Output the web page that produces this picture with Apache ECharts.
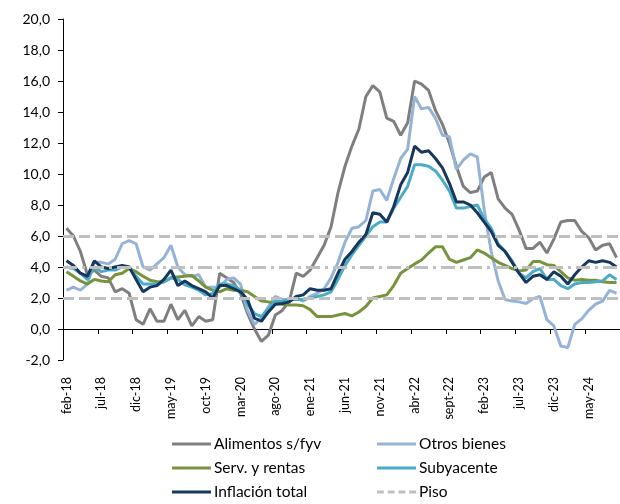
<!DOCTYPE html>
<html>
<head>
<meta charset="utf-8">
<script src="https://cdn.jsdelivr.net/npm/echarts@6/dist/echarts.min.js"></script>
<style>
html,body{margin:0;padding:0;background:#fff;}
#chart{width:620px;height:504px;}
</style>
</head>
<body>
<div id="chart"></div>
<script>
// Categories: monthly, feb-18 .. sept-24
var monthNames = ['ene','feb','mar','abr','may','jun','jul','ago','sept','oct','nov','dic'];
var firstYear = 18, firstMonth = 1, nMonths = 80;
var categories = [];
for (var k = 0; k < nMonths; k++) {
  var m = (firstMonth + k) % 12;
  var y = firstYear + Math.floor((firstMonth + k) / 12);
  categories.push(monthNames[m] + '-' + y);
}

var alimentos = [6.5,6.0,5.0,3.5,3.8,3.4,3.3,2.4,2.6,2.3,
  0.6,0.3,1.3,0.5,0.5,1.6,0.6,1.2,0.2,0.8,
  0.5,0.6,3.6,3.3,3.0,2.3,1.0,0.0,-0.8,-0.4,
  0.9,1.2,1.8,3.6,3.4,3.8,4.6,5.4,6.6,8.8,
  10.5,11.8,12.9,15.0,15.7,15.3,13.6,13.4,12.5,13.3,
  16.0,15.8,15.4,14.1,13.2,12.0,10.5,9.2,8.8,8.9,
  9.8,10.1,8.4,7.8,7.4,6.4,5.2,5.2,5.6,4.9,
  5.8,6.9,7.0,7.0,6.3,5.9,5.1,5.4,5.5,4.6];

var otrosBienes = [2.5,2.7,2.5,2.9,4.3,4.3,4.2,4.5,5.5,5.7,
  5.5,4.0,3.8,4.2,4.6,5.4,4.0,3.5,3.4,3.5,
  2.7,2.7,2.7,3.2,3.3,2.9,1.2,0.3,0.7,1.45,
  2.1,1.9,1.9,2.0,1.8,2.1,2.3,2.6,3.3,4.3,
  5.6,6.5,6.6,7.0,8.9,9.0,8.3,9.7,11.0,11.6,
  15.0,14.2,14.3,13.6,12.5,12.4,10.3,10.9,11.3,11.1,
  7.7,5.0,3.1,1.9,1.8,1.75,1.65,1.95,2.1,0.6,
  0.2,-1.1,-1.2,0.3,0.65,1.2,1.6,1.8,2.5,2.3];

var servRentas = [3.7,3.4,3.1,2.9,3.2,3.1,3.05,3.5,3.6,3.9,
  3.7,3.4,3.15,3.05,3.05,3.3,3.35,3.4,3.45,3.1,
  2.7,2.5,2.4,2.6,2.5,2.5,2.4,2.1,1.8,1.75,
  1.65,1.6,1.55,1.55,1.5,1.25,0.8,0.8,0.8,0.9,
  1.0,0.85,1.1,1.45,2.0,2.1,2.2,2.8,3.6,3.9,
  4.2,4.45,4.9,5.3,5.3,4.5,4.3,4.45,4.6,5.1,
  4.9,4.6,4.3,4.1,3.9,3.75,3.8,4.35,4.35,4.15,
  4.1,3.7,3.3,3.15,3.2,3.15,3.15,3.05,3.0,3.0];

var subyacente = [4.0,3.9,3.6,3.2,4.0,3.7,3.8,3.8,4.0,4.0,
  3.4,2.9,2.9,2.9,3.05,3.3,3.2,2.85,2.7,2.5,
  2.2,2.3,2.9,2.9,2.8,2.5,1.6,1.0,0.8,1.3,
  1.8,1.8,1.9,1.9,1.9,2.0,2.1,2.2,2.4,3.2,
  4.1,4.8,5.4,6.0,6.6,6.9,6.9,7.8,8.5,9.2,
  10.6,10.6,10.5,10.2,9.6,8.9,7.8,7.8,7.9,8.0,
  7.1,6.5,5.5,5.0,4.4,3.6,3.3,3.7,3.9,3.2,
  3.2,2.8,2.6,2.9,3.0,3.0,3.05,3.1,3.5,3.2];

var inflacionTotal = [4.4,4.1,3.6,3.4,4.4,4.0,3.9,4.0,4.1,4.0,
  3.2,2.4,2.7,2.8,3.2,3.8,2.8,3.1,2.8,2.6,
  2.4,2.0,2.8,2.8,2.6,2.4,1.9,0.7,0.5,1.1,
  1.6,1.65,1.75,2.1,2.2,2.6,2.5,2.5,2.6,3.6,
  4.5,5.0,5.6,6.1,7.5,7.4,6.9,7.9,9.3,10.1,
  11.8,11.4,11.5,11.0,10.4,9.4,8.2,8.2,8.0,7.5,
  6.9,6.3,5.4,5.0,4.3,3.6,3.0,3.4,3.5,3.2,
  3.7,3.4,2.9,3.5,4.0,4.4,4.3,4.4,4.3,4.0];

// Target band
var piso = 2.0;
var meta = 4.0;
var techo = 6.0;

var yTicks = {min: -2, max: 20, interval: 2};

var FONT = 'Lato, "Open Sans", sans-serif';

var chart = echarts.init(document.getElementById('chart'), null, {renderer: 'canvas'});

function lineSeries(name, data, color) {
  return {
    name: name, type: 'line', data: data, xAxisIndex: 0,
    symbol: 'none', showSymbol: false, smooth: false,
    color: color,
    lineStyle: {color: color, width: 3},
    itemStyle: {color: color},
    animation: false
  };
}

var refColor = '#BFBFBF';

var solidIcon = 'path://M0,0H40V3H0Z';
var dashIcon = 'path://M0,0H7V3H0Z M11,0H18V3H11Z M22,0H29V3H22Z M33,0H40V3H33Z';

var legendCommon = {
  orient: 'vertical', top: 436, padding: 0,
  itemWidth: 39, itemHeight: 3, itemGap: 8,
  textStyle: {fontSize: 15.5, lineHeight: 15, color: '#000', fontFamily: FONT, padding: [0, 0, 0, -2]}
};

var option = {
  animation: false,
  backgroundColor: '#fff',
  grid: {left: 63, top: 19, width: 560, height: 341, containLabel: false},
  xAxis: [
    {
      type: 'category', data: categories, boundaryGap: true, position: 'bottom',
      axisLine: {show: false, onZero: false},
      axisTick: {show: false},
      splitLine: {show: false},
      axisLabel: {interval: 4, rotate: 90, margin: 17, fontSize: 12.5, color: '#000', fontFamily: FONT}
    },
    {
      type: 'category', data: categories, boundaryGap: true, position: 'bottom',
      axisLine: {show: true, onZero: true, lineStyle: {color: '#000', width: 1}},
      axisTick: {show: true, interval: 4, length: 5, lineStyle: {color: '#000', width: 1}},
      axisLabel: {show: false},
      splitLine: {show: false}
    }
  ],
  yAxis: {
    type: 'value', min: yTicks.min, max: yTicks.max, interval: yTicks.interval,
    axisLine: {show: true, lineStyle: {color: '#000', width: 1}},
    axisTick: {show: true, length: 5, lineStyle: {color: '#000'}},
    splitLine: {show: false},
    axisLabel: {
      margin: 13, fontSize: 14, color: '#000', fontFamily: FONT,
      formatter: function (v) { return v.toFixed(1).replace('.', ','); }
    }
  },
  legend: [
    Object.assign({}, legendCommon, {left: 172, data: [
      {name: 'Alimentos s/fyv', icon: solidIcon},
      {name: 'Serv. y rentas', icon: solidIcon},
      {name: 'Inflación total', icon: solidIcon}
    ]}),
    Object.assign({}, legendCommon, {left: 377, data: [
      {name: 'Otros bienes', icon: solidIcon},
      {name: 'Subyacente', icon: solidIcon},
      {name: 'Piso', icon: dashIcon}
    ]})
  ],
  series: [
    {
      name: 'Piso', type: 'line', data: [], xAxisIndex: 0, symbol: 'none',
      color: refColor,
      lineStyle: {color: refColor, width: 3, type: [8, 4]},
      itemStyle: {color: refColor},
      markLine: {
        silent: true, symbol: 'none', label: {show: false}, animation: false,
        lineStyle: {color: refColor, width: 3, type: [11, 5]},
        data: [
          {yAxis: piso},
          {yAxis: techo},
          {yAxis: meta, lineStyle: {color: refColor, width: 3, type: [14, 5, 3, 5]}}
        ]
      }
    },
    lineSeries('Alimentos s/fyv', alimentos, '#7F7F7F'),
    lineSeries('Otros bienes', otrosBienes, '#95B3D7'),
    lineSeries('Serv. y rentas', servRentas, '#77933C'),
    lineSeries('Subyacente', subyacente, '#4BACC6'),
    lineSeries('Inflación total', inflacionTotal, '#17375E')
  ]
};

chart.setOption(option);
</script>
</body>
</html>
